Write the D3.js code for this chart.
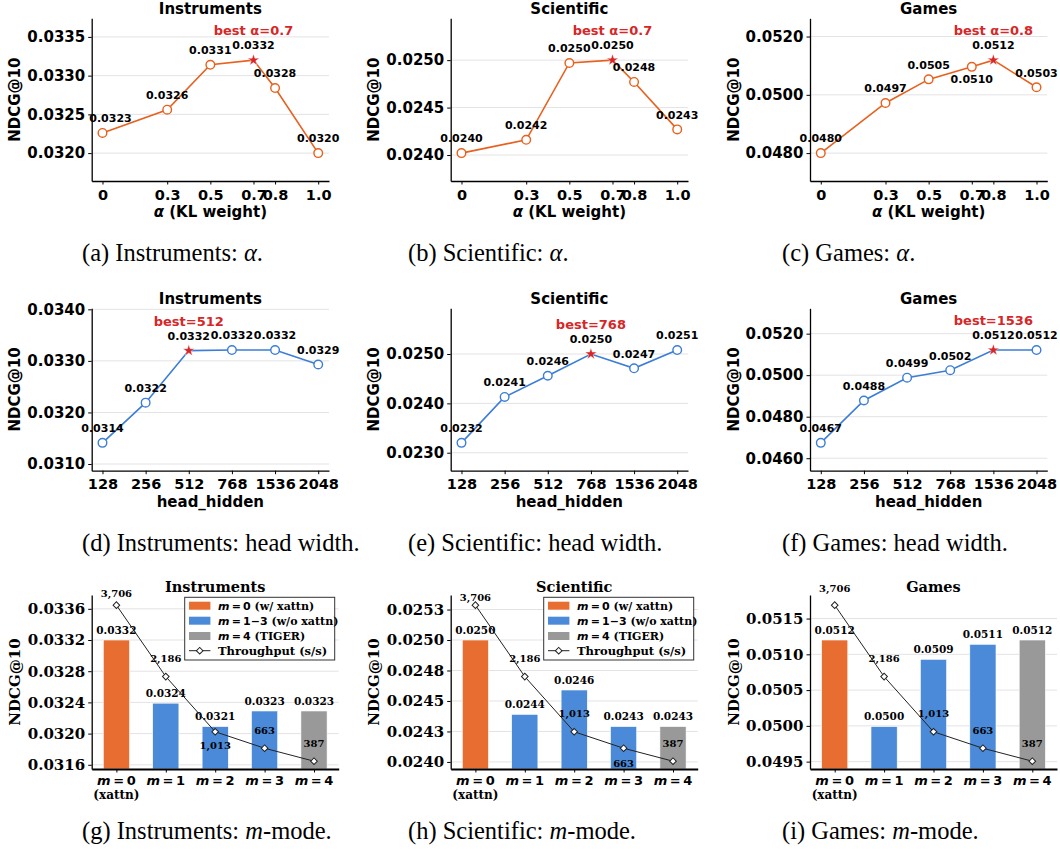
<!DOCTYPE html>
<html>
<head>
<meta charset="utf-8">
<script src="https://cdn.jsdelivr.net/npm/d3@7"></script>
<style>
  body { margin: 0; background: #fff; }
  svg { display: block; }
</style>
</head>
<body>
<svg id="fig" width="1060" height="849"></svg>
<script>
"use strict";

// ---------- data ----------
const alphaValues = [0, 0.3, 0.5, 0.7, 0.8, 1.0];
const alphaTickLabels = ["0", "0.3", "0.5", "0.7", "0.8", "1.0"];
const alphaInstruments = [0.03226, 0.03256, 0.03314, 0.03320, 0.03284, 0.03200];
const alphaScientific = [0.02402, 0.02416, 0.02497, 0.02500, 0.02477, 0.02427];
const alphaGames = [0.04800, 0.04972, 0.05053, 0.05096, 0.05119, 0.05026];

const headSizes = ["128", "256", "512", "768", "1536", "2048"];
const headInstruments = [0.03141, 0.03219, 0.03320, 0.03321, 0.03321, 0.03293];
const headScientific = [0.02320, 0.02413, 0.02456, 0.02500, 0.02471, 0.02508];
const headGames = [0.04674, 0.04878, 0.04988, 0.05024, 0.05121, 0.05121];

const modes = ["0", "1", "2", "3", "4"];
const modeInstruments = [0.03320, 0.03239, 0.03209, 0.03229, 0.03229];
const modeScientific = [0.02500, 0.02439, 0.02459, 0.02429, 0.02429];
const modeGames = [0.05120, 0.04999, 0.05093, 0.05114, 0.05120];
const throughput = [3706, 2186, 1013, 663, 387];
const throughputLabels = ["3,706", "2,186", "1,013", "663", "387"];

const yTicksAlphaInstruments = [0.0320, 0.0325, 0.0330, 0.0335];
const yTicksAlphaScientific = [0.0240, 0.0245, 0.0250];
const yTicksAlphaGames = [0.0480, 0.0500, 0.0520];
const yTicksHeadInstruments = [0.0310, 0.0320, 0.0330, 0.0340];
const yTicksHeadScientific = [0.0230, 0.0240, 0.0250];
const yTicksHeadGames = [0.0460, 0.0480, 0.0500, 0.0520];
const yTicksModeInstruments = [0.0316, 0.0320, 0.0324, 0.0328, 0.0332, 0.0336];
const yTicksModeScientific = [0.02400, 0.02425, 0.02450, 0.02475, 0.02500, 0.02525];
const yTickLabelsModeScientific = ["0.0240", "0.0243", "0.0245", "0.0248", "0.0250", "0.0253"];
const yTicksModeGames = [0.0495, 0.0500, 0.0505, 0.0510, 0.0515];

// ---------- look ----------
const sans = "'DejaVu Sans', sans-serif";
const serif = "'DejaVu Serif', serif";
const capFont = "'Liberation Serif', 'Times New Roman', serif";
const orange = "#e8601c";
const blue = "#3b7dd8";
const red = "#d62728";
const barColors = ["#e86d30", "#4a8ad8", "#4a8ad8", "#4a8ad8", "#999999"];
const fmt4 = d3.format(".4f");
const thin = "\u2009";

const cols = [91.7, 450.7, 810];
const lineW = 237.3;
const barW = 247;
const rows = [{ top: 18.3, bottom: 181 }, { top: 308.3, bottom: 470.7 }, { top: 595, bottom: 769 }];

const svg = d3.select("#fig");
svg.append("rect").attr("width", 1060).attr("height", 849).attr("fill", "#fff");

function styleAxis(sel, family, size) {
  sel.attr("font-family", family).attr("font-size", size).attr("font-weight", "bold");
  sel.select(".domain").attr("stroke", "#000").attr("stroke-width", 1.3);
  sel.selectAll(".tick line").attr("stroke", "#000").attr("stroke-width", 1);
  sel.selectAll(".tick text").attr("fill", "#000");
}

function label(g, x, y, str, size, family, opts = {}) {
  return g.append("text")
    .attr("x", x).attr("y", y).attr("dy", "0.35em")
    .attr("text-anchor", opts.anchor || "middle")
    .attr("font-family", family).attr("font-size", size)
    .attr("font-weight", "bold")
    .attr("fill", opts.fill || "#000")
    .text(str);
}

function grid(g, y, ticks, x0, x1) {
  g.append("g").selectAll("line").data(ticks).join("line")
    .attr("x1", x0).attr("x2", x1)
    .attr("y1", d => y(d)).attr("y2", d => y(d))
    .attr("stroke", "#e3e3e3").attr("stroke-width", 1);
}

// ---------- line panels (rows 1-2) ----------
const linePanels = [
  { row: 0, col: 0, kind: "alpha", title: "Instruments", vals: alphaInstruments, yTicks: yTicksAlphaInstruments, best: 3, bestLabel: "best α=0.7", nudge: { 0: [8, 0] } },
  { row: 0, col: 1, kind: "alpha", title: "Scientific", vals: alphaScientific, yTicks: yTicksAlphaScientific, best: 3, bestLabel: "best α=0.7", nudge: {} },
  { row: 0, col: 2, kind: "alpha", title: "Games", vals: alphaGames, yTicks: yTicksAlphaGames, best: 4, bestLabel: "best α=0.8", nudge: { 3: [0, 26.5] } },
  { row: 1, col: 0, kind: "head", title: "Instruments", vals: headInstruments, yTicks: yTicksHeadInstruments, best: 2, bestLabel: "best=512", nudge: {} },
  { row: 1, col: 1, kind: "head", title: "Scientific", vals: headScientific, yTicks: yTicksHeadScientific, best: 3, bestLabel: "best=768", nudge: {} },
  { row: 1, col: 2, kind: "head", title: "Games", vals: headGames, yTicks: yTicksHeadGames, best: 4, bestLabel: "best=1536", nudge: {} }
];

function linePanel(o) {
  const x0 = cols[o.col], x1 = x0 + lineW;
  const { top, bottom } = rows[o.row];
  const g = svg.append("g");
  const color = o.kind === "alpha" ? orange : blue;

  const lo = d3.min(o.vals), hi = d3.max(o.vals), r = hi - lo;
  const y = d3.scaleLinear().domain([lo - 0.3 * r, hi + 0.45 * r]).range([bottom, top]);
  const xs = o.kind === "alpha" ? alphaValues : headSizes;
  const x = o.kind === "alpha"
    ? d3.scaleLinear().domain([-0.05, 1.05]).range([x0, x1])
    : d3.scalePoint().domain(headSizes).range([x0, x1]).padding(0.25);

  grid(g, y, o.yTicks, x0, x1);

  const ya = d3.axisLeft(y).tickValues(o.yTicks).tickFormat(fmt4).tickSize(3.5).tickSizeOuter(0).tickPadding(3);
  g.append("g").attr("transform", `translate(${x0},0)`).call(ya).call(styleAxis, sans, 15);

  let xa = d3.axisBottom(x).tickSize(3.5).tickSizeOuter(0).tickPadding(5);
  if (o.kind === "alpha") xa = xa.tickValues(alphaValues).tickFormat((d, i) => alphaTickLabels[i]);
  g.append("g").attr("transform", `translate(0,${bottom})`).call(xa).call(styleAxis, sans, 14.5);

  const line = d3.line().x((d, i) => x(xs[i])).y(d => y(d));
  g.append("path").datum(o.vals).attr("d", line)
    .attr("fill", "none").attr("stroke", color).attr("stroke-width", 1.6);

  g.selectAll("circle.pt").data(o.vals).join("circle")
    .attr("cx", (d, i) => x(xs[i])).attr("cy", d => y(d)).attr("r", 4.3)
    .attr("fill", "#fff").attr("stroke", color).attr("stroke-width", 1.4)
    .attr("opacity", (d, i) => i === o.best ? 0 : 1);

  const bx = x(xs[o.best]), by = y(o.vals[o.best]);
  g.append("path").attr("d", d3.symbol(d3.symbolStar, 42)())
    .attr("transform", `translate(${bx},${by})`)
    .attr("fill", red).attr("stroke", "#fff").attr("stroke-width", 0.4);

  o.vals.forEach((v, i) => {
    const n = o.nudge[i] || [0, 0];
    label(g, x(xs[i]) + n[0], y(v) - 14.5 + n[1], fmt4(v), 11, sans);
  });
  label(g, bx, by - 29.5, o.bestLabel, 13, sans, { fill: red });

  label(g, (x0 + x1) / 2, top - 10, o.title, 15, sans);
  g.append("text")
    .attr("transform", `translate(${x0 - 76.7},${(top + bottom) / 2}) rotate(-90)`)
    .attr("dy", "0.35em").attr("text-anchor", "middle")
    .attr("font-family", sans).attr("font-size", 15).attr("font-weight", "bold")
    .text("NDCG@10");

  const xl = g.append("text")
    .attr("x", (x0 + x1) / 2).attr("y", bottom + 31).attr("dy", "0.35em")
    .attr("text-anchor", "middle")
    .attr("font-family", sans).attr("font-size", 15).attr("font-weight", "bold");
  if (o.kind === "alpha") {
    xl.append("tspan").attr("font-style", "italic").text("α");
    xl.append("tspan").text(" (KL weight)");
  } else {
    xl.text("head_hidden");
  }
}

linePanels.forEach(linePanel);

// ---------- bar panels (row 3) ----------
const barPanels = [
  { col: 0, title: "Instruments", vals: modeInstruments, yTicks: yTicksModeInstruments, yTickLabels: null, legend: true, tpOffsets: [-12, -18, 14, -18, -18] },
  { col: 1, title: "Scientific", vals: modeScientific, yTicks: yTicksModeScientific, yTickLabels: yTickLabelsModeScientific, legend: true, tpOffsets: [-8, -18, -18, 15, -18] },
  { col: 2, title: "Games", vals: modeGames, yTicks: yTicksModeGames, yTickLabels: null, legend: false, tpOffsets: [-17, -18, -18, -18, -18] }
];

function mathM(t, rest) {
  t.append("tspan").attr("font-family", sans).attr("font-style", "italic").text("m");
  t.append("tspan").attr("font-family", sans).text(thin + "=" + thin + rest);
}

function barPanel(o) {
  const x0 = cols[o.col], x1 = x0 + barW;
  const { top, bottom } = rows[2];
  const g = svg.append("g");

  const lo = d3.min(o.vals), hi = d3.max(o.vals), r = hi - lo;
  const y = d3.scaleLinear().domain([lo - 0.49 * r, hi + 0.52 * r]).range([bottom, top]);
  const x = d3.scalePoint().domain(modes).range([x0, x1]).padding(0.5);
  const bw = x.step() * 0.53;
  const tLo = d3.min(throughput), tHi = d3.max(throughput), tr = tHi - tLo;
  const y2 = d3.scaleLinear().domain([tLo - 0.05 * tr, tHi + 0.065 * tr]).range([bottom, top]);

  grid(g, y, o.yTicks, x0, x1);

  g.selectAll("rect.bar").data(o.vals).join("rect")
    .attr("x", (d, i) => x(modes[i]) - bw / 2).attr("width", bw)
    .attr("y", d => y(d)).attr("height", d => bottom - y(d))
    .attr("fill", (d, i) => barColors[i])
    .attr("stroke", "#fff").attr("stroke-width", 0.6);

  o.vals.forEach((v, i) => label(g, x(modes[i]), y(v) - 10, fmt4(v), 10.5, serif));

  const ya = d3.axisLeft(y).tickValues(o.yTicks)
    .tickFormat((d, i) => o.yTickLabels ? o.yTickLabels[i] : fmt4(d))
    .tickSize(3.5).tickSizeOuter(0).tickPadding(3);
  g.append("g").attr("transform", `translate(${x0},0)`).call(ya).call(styleAxis, serif, 15);

  const xa = d3.axisBottom(x).tickSize(3.5).tickSizeOuter(0).tickFormat("");
  const xg = g.append("g").attr("transform", `translate(0,${bottom})`).call(xa).call(styleAxis, serif, 13);
  xg.select(".domain").attr("stroke-width", 2);

  modes.forEach(m => {
    const t = g.append("text").attr("x", x(m)).attr("y", bottom + 11).attr("dy", "0.35em")
      .attr("text-anchor", "middle").attr("font-size", 13).attr("font-weight", "bold");
    mathM(t, m);
  });
  label(g, x(modes[0]), bottom + 26, "(xattn)", 12, serif);

  const tline = d3.line().x((d, i) => x(modes[i])).y(d => y2(d));
  g.append("path").datum(throughput).attr("d", tline)
    .attr("fill", "none").attr("stroke", "#222").attr("stroke-width", 1);
  g.selectAll("path.dia").data(throughput).join("path")
    .attr("d", d3.symbol(d3.symbolSquare, 22)())
    .attr("transform", (d, i) => `translate(${x(modes[i])},${y2(d)}) rotate(45)`)
    .attr("fill", "#fff").attr("stroke", "#222").attr("stroke-width", 1);
  throughput.forEach((v, i) => label(g, x(modes[i]), y2(v) + o.tpOffsets[i], throughputLabels[i], 10, serif));

  label(g, (x0 + x1) / 2, top - 8.3, o.title, 14.5, serif);
  g.append("text")
    .attr("transform", `translate(${x0 - 76.7},${(top + bottom) / 2}) rotate(-90)`)
    .attr("dy", "0.35em").attr("text-anchor", "middle")
    .attr("font-family", serif).attr("font-size", 15).attr("font-weight", "bold")
    .text("NDCG@10");

  if (o.legend) {
    const lw = 150, lh = 62.7;
    const lx = x1 - 4 - lw, ly = top + 2.3;
    const lg = g.append("g").attr("transform", `translate(${lx},${ly})`);
    lg.append("rect").attr("width", lw).attr("height", lh)
      .attr("fill", "#fff").attr("fill-opacity", 0.9)
      .attr("stroke", "#333").attr("stroke-width", 1);
    const rowsY = [8.4, 23.4, 38.7, 53.4];
    const patchColors = [barColors[0], barColors[1], barColors[4]];
    const entries = [["0", " (w/ xattn)"], ["1−3", " (w/o xattn)"], ["4", " (TIGER)"]];
    entries.forEach((e, i) => {
      lg.append("rect").attr("x", 4.3).attr("y", rowsY[i] - 4).attr("width", 21.4).attr("height", 8)
        .attr("fill", patchColors[i]);
      const t = lg.append("text").attr("x", 33.3).attr("y", rowsY[i]).attr("dy", "0.35em")
        .attr("font-size", 11).attr("font-weight", "bold");
      mathM(t, e[0]);
      t.append("tspan").attr("font-family", serif).attr("font-size", 11).text(e[1]);
    });
    lg.append("line").attr("x1", 4.3).attr("x2", 25.7).attr("y1", rowsY[3]).attr("y2", rowsY[3])
      .attr("stroke", "#222").attr("stroke-width", 1);
    lg.append("path").attr("d", d3.symbol(d3.symbolSquare, 22)())
      .attr("transform", `translate(15,${rowsY[3]}) rotate(45)`)
      .attr("fill", "#fff").attr("stroke", "#222");
    label(lg, 33.3, rowsY[3], "Throughput (s/s)", 11.5, serif, { anchor: "start" });
  }
}

barPanels.forEach(barPanel);

// ---------- captions ----------
const captionX = [82, 408, 782];
const captionY = [261, 551, 839];
const captions = [
  ["(a) Instruments: ", "α", "."], ["(b) Scientific: ", "α", "."], ["(c) Games: ", "α", "."],
  ["(d) Instruments: head width.", "", ""], ["(e) Scientific: head width.", "", ""], ["(f) Games: head width.", "", ""],
  ["(g) Instruments: ", "m", "-mode."], ["(h) Scientific: ", "m", "-mode."], ["(i) Games: ", "m", "-mode."]
];
captions.forEach((c, i) => {
  const t = svg.append("text")
    .attr("x", captionX[i % 3]).attr("y", captionY[Math.floor(i / 3)])
    .attr("font-family", capFont).attr("font-size", 24.5).attr("fill", "#000");
  t.append("tspan").text(c[0]);
  if (c[1]) t.append("tspan").attr("font-style", "italic").text(c[1]);
  if (c[2]) t.append("tspan").text(c[2]);
});
</script>
</body>
</html>
